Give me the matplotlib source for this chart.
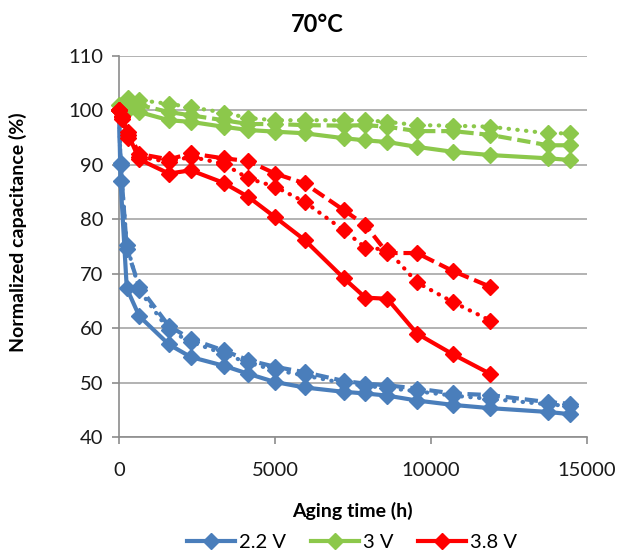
import numpy as np
import matplotlib
matplotlib.use("Agg")
import matplotlib.pyplot as plt
from matplotlib.lines import Line2D

plt.rcParams['font.family'] = ['Lato', 'DejaVu Sans']

BLUE = '#4A7EBB'
GREEN = '#8CC84B'
RED = '#FF0000'

# aging times (h)
t_blue = [0, 50, 250, 650, 1600, 2300, 3350, 4150, 5000, 5950, 7200, 7900, 8600,
          9550, 10700, 11900, 13750, 14450]
t_green = [0, 300, 650, 1600, 2300, 3350, 4150, 5000, 5950, 7200, 7900, 8600,
           9550, 10700, 11900, 13750, 14450]
t_red = [0, 100, 300, 650, 1600, 2300, 3350, 4150, 5000, 5950, 7200, 7900, 8600,
         9550, 10700, 11900]

# 2.2 V
blue_solid = [100, 87.0, 67.3, 62.2, 57.0, 54.7, 53.1, 51.6, 50.1, 49.1, 48.3, 48.0,
              47.6, 46.7, 45.9, 45.3, 44.6, 44.2]
blue_dash = [100, 90.3, 74.6, 67.6, 60.4, 58.0, 55.9, 54.1, 52.9, 51.9, 50.3, 49.8,
             49.5, 48.9, 48.0, 47.7, 46.4, 46.1]
blue_dot = [100, 90.0, 75.3, 67.0, 59.6, 57.5, 55.3, 53.6, 52.3, 51.3, 49.9, 49.4,
            49.0, 48.4, 47.6, 47.0, 46.0, 45.7]

# 3 V
green_solid = [100, 100.0, 99.7, 98.2, 97.9, 97.0, 96.4, 96.1, 95.8, 94.9, 94.5, 94.2,
               93.3, 92.4, 91.8, 91.2, 90.9]
green_dash = [100, 101.0, 101.0, 99.7, 99.1, 98.2, 97.5, 97.5, 97.3, 97.2, 97.3, 97.0,
              96.2, 96.2, 95.5, 93.6, 93.6]
green_dot = [101, 102.2, 101.9, 101.2, 100.6, 99.6, 98.6, 98.2, 98.2, 98.2, 98.2, 97.9,
             97.3, 97.2, 97.0, 95.8, 95.8]

# 3.8 V
red_solid = [100, 98.8, 95.5, 91.0, 88.4, 89.0, 86.7, 84.1, 80.4, 76.2, 69.2, 65.6,
             65.4, 59.0, 55.2, 51.6]
red_dash = [100, 99.0, 96.0, 92.0, 91.0, 92.1, 91.2, 90.7, 88.4, 86.6, 81.7, 78.9,
            73.8, 73.8, 70.5, 67.6]
red_dot = [100, 98.5, 95.0, 91.5, 90.5, 91.5, 90.2, 87.5, 86.0, 83.2, 78.0, 74.8,
           74.4, 68.4, 64.8, 61.4]

labels = ['2.2 V', '3 V', '3.8 V']

fig = plt.figure(figsize=(6.25, 5.53), dpi=100)
ax = fig.add_axes([119 / 625, 1 - 437 / 553, (587 - 119) / 625, (437 - 56) / 553])

dash_style = (0, (3.2, 1.4))
dot_style = (0, (0.1, 2.0))

series = [
    (t_blue, blue_solid, blue_dash, blue_dot, BLUE),
    (t_green, green_solid, green_dash, green_dot, GREEN),
    (t_red, red_solid, red_dash, red_dot, RED),
]

for t, s, d, o, c in series:
    kw = dict(color=c, marker='D', markersize=8, markeredgecolor=c, linewidth=3,
              clip_on=False, zorder=3)
    ax.plot(t, s, linestyle='-', **kw)
    ax.plot(t, d, linestyle=dash_style, **kw)
    ax.plot(t, o, linestyle=dot_style, dash_capstyle='round', **kw)

ax.set_xlim(0, 15000)
ax.set_ylim(40, 110)
ax.set_xticks([0, 5000, 10000, 15000])
ax.set_yticks(np.arange(40, 111, 10))
ax.yaxis.grid(True, color='#A6A6A6', linewidth=1.2)
ax.set_axisbelow(True)
for sp in ['top', 'right']:
    ax.spines[sp].set_visible(False)
for sp in ['left', 'bottom']:
    ax.spines[sp].set_color('#8C8C8C')
    ax.spines[sp].set_linewidth(1.2)
ax.tick_params(axis='both', colors='#8C8C8C', length=5, width=1.2, labelsize=14.5,
               labelcolor='#1A1A1A')
ax.tick_params(axis='x', pad=13)
ax.tick_params(axis='y', pad=6)

fig.text(317 / 625, 1 - 24 / 553, '70°C', ha='center', va='center', fontsize=17,
         fontweight='bold')
fig.text(18 / 625, 1 - 232 / 553, 'Normalized capacitance (%)', rotation=90,
         ha='center', va='center', fontsize=14, fontweight='bold')
fig.text(352 / 625, 1 - 511 / 553, 'Aging time (h)', ha='center', va='center',
         fontsize=14, fontweight='bold')

handles = [Line2D([], [], color=c, marker='D', markersize=8, markeredgecolor=c,
                  linewidth=3) for c in (BLUE, GREEN, RED)]
fig.legend(handles, labels, loc='center', bbox_to_anchor=(352 / 625, 1 - 542 / 553),
           ncol=3, frameon=False, fontsize=14.5, handlelength=2.4, handletextpad=0.2,
           columnspacing=1.2, borderpad=0)

fig.savefig('out.png', dpi=100)
